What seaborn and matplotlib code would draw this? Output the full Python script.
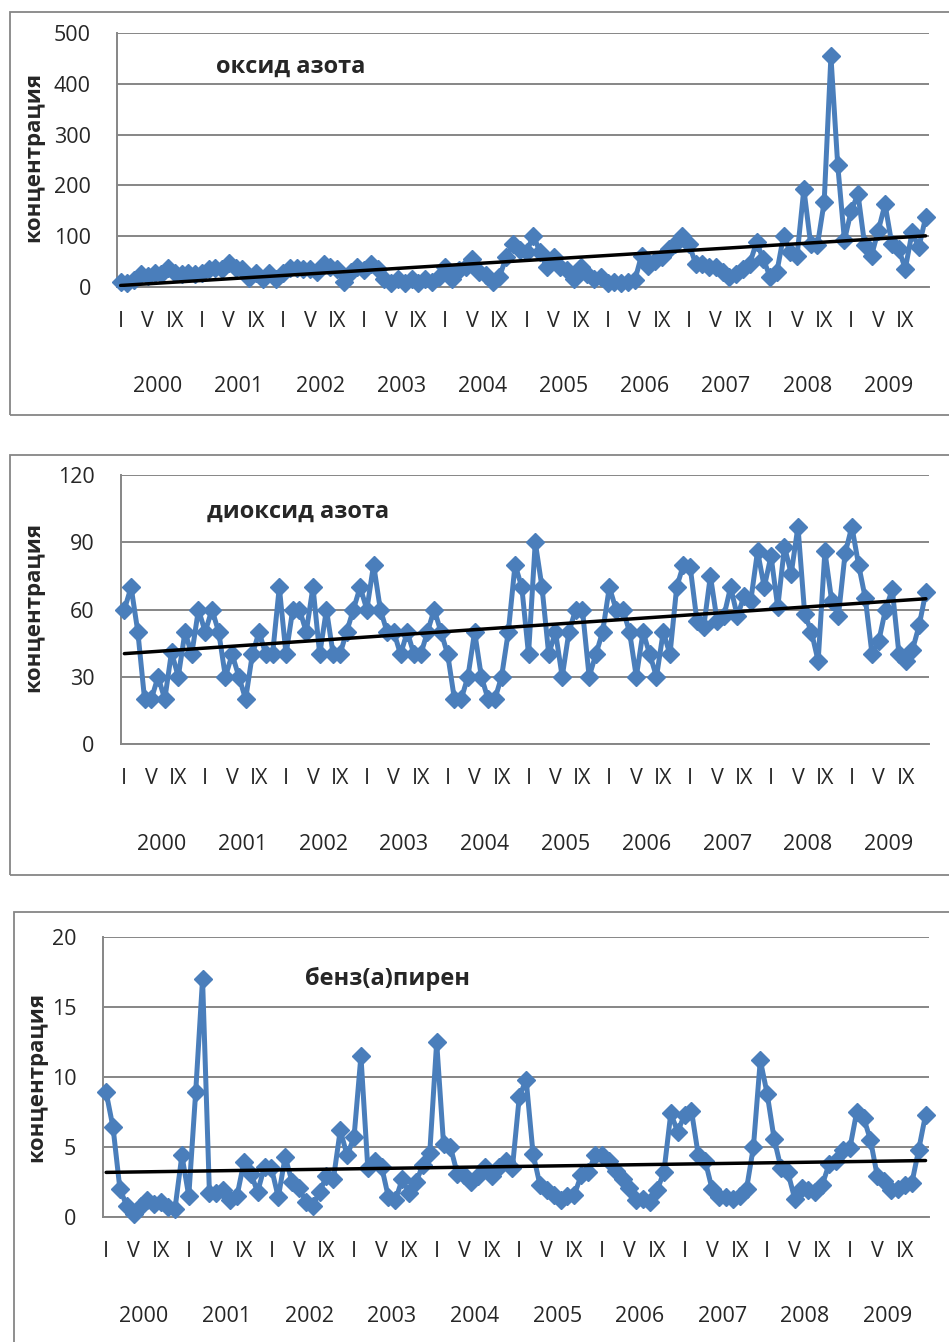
import numpy as np
import matplotlib
matplotlib.use("Agg")
import matplotlib.pyplot as plt
from matplotlib.patches import Rectangle
import seaborn as sns

# ---- monthly concentrations, Jan 2000 .. Dec 2009 ----
years = list(range(2000, 2010))
month_labels = {0: "I", 4: "V", 8: "IX"}

nox = [10, 8, 14, 25, 22, 28, 25, 38, 28, 25, 28, 26,
       28, 35, 38, 36, 47, 38, 35, 18, 28, 15, 28, 16,
       28, 38, 38, 35, 36, 29, 46, 39, 36, 10, 29, 39,
       33, 46, 36, 16, 7, 16, 7, 16, 7, 16, 10, 20,
       39, 16, 33, 39, 55, 29, 23, 10, 20, 59, 85, 72,
       69, 101, 69, 39, 59, 39, 33, 16, 39, 26, 16, 20,
       7, 10, 7, 10, 13, 62, 42, 52, 59, 75, 85, 101,
       85, 46, 46, 39, 39, 29, 20, 26, 36, 46, 88, 55,
       20, 29, 101, 69, 62, 193, 85, 82, 167, 454, 241, 92,
       150, 183, 82, 62, 111, 163, 85, 75, 36, 108, 78, 137]

no2 = [60, 70, 50, 20, 20, 30, 20, 41, 30, 50, 40, 60,
       50, 60, 50, 30, 40, 30, 20, 40, 50, 40, 40, 70,
       40, 60, 60, 50, 70, 40, 60, 40, 40, 50, 60, 70,
       60, 80, 60, 50, 50, 40, 50, 40, 40, 50, 60, 50,
       40, 20, 20, 30, 50, 30, 20, 20, 30, 50, 80, 70,
       40, 90, 70, 40, 50, 30, 50, 60, 60, 30, 40, 50,
       70, 60, 60, 50, 30, 50, 40, 30, 50, 40, 70, 80,
       79, 55, 52, 75, 55, 57, 70, 57, 66, 64, 86, 70,
       84, 61, 88, 76, 97, 58, 50, 37, 86, 64, 57, 85,
       97, 80, 65, 40, 46, 60, 69, 40, 37, 42, 53, 68]

bap = [8.9, 6.4, 2.0, 0.8, 0.2, 0.8, 1.2, 0.95, 1.1, 0.7, 0.6, 4.4,
       1.5, 8.9, 17.0, 1.7, 1.7, 1.9, 1.2, 1.5, 3.9, 3.1, 1.8, 3.6,
       3.5, 1.4, 4.3, 2.5, 2.1, 1.1, 0.8, 1.8, 2.9, 2.7, 6.2, 4.4,
       5.7, 11.5, 3.5, 4.0, 3.6, 1.4, 1.2, 2.7, 1.7, 2.5, 3.7, 4.6,
       12.5, 5.2, 5.0, 3.1, 3.0, 2.5, 2.9, 3.6, 2.9, 3.6, 4.0, 3.5,
       8.6, 9.8, 4.5, 2.3, 1.9, 1.6, 1.2, 1.5, 1.6, 3.0, 3.2, 4.4,
       4.4, 4.0, 3.3, 2.7, 2.1, 1.2, 1.3, 1.1, 1.9, 3.2, 7.4, 6.1,
       7.3, 7.6, 4.4, 4.0, 2.0, 1.4, 1.4, 1.3, 1.5, 2.0, 5.0, 11.2,
       8.8, 5.6, 3.5, 3.2, 1.3, 2.1, 1.9, 1.8, 2.3, 3.8, 4.0, 4.8,
       4.9, 7.5, 7.1, 5.5, 2.9, 2.6, 1.9, 2.0, 2.3, 2.4, 4.8, 7.3]

titles = ["оксид азота", "диоксид азота", "бенз(а)пирен"]
y_label = "концентрация"
y_ticks = [[0, 100, 200, 300, 400, 500],
           [0, 30, 60, 90, 120],
           [0, 5, 10, 15, 20]]

# ---- styling ----
sns.set_style("white")
plt.rcParams["font.family"] = ["Open Sans", "DejaVu Sans"]

W, H = 949, 1342
LINE = "#4A7EBB"
GRAY = "#868686"

fig = plt.figure(figsize=(W / 100, H / 100), dpi=100)

# plot rectangles (left, top, right, bottom) in pixels, frame boxes, title anchors
layout = [
    dict(plot=(117.3, 33, 929, 287), box=(10, 12, 990, 415),
         title=(216, 73), ylab=(34, 157)),
    dict(plot=(121, 475, 929.3, 744), box=(10, 455, 990, 875),
         title=(207, 518), ylab=(34, 607)),
    dict(plot=(102.7, 937, 929, 1217), box=(14, 912, 990, 1400),
         title=(305, 985), ylab=(37, 1077)),
]

series = [nox, no2, bap]
n = len(nox)
idx = np.arange(n)

major_pos = [i for i in range(n) if i % 12 in month_labels]
major_lab = [month_labels[i % 12] for i in major_pos]

for k, (vals, lay, ticks, title) in enumerate(zip(series, layout, y_ticks, titles)):
    l, t, r, b = lay["plot"]
    ax = fig.add_axes([l / W, 1 - b / H, (r - l) / W, (b - t) / H])

    # outer chart frame
    bl, bt, br, bb = lay["box"]
    fig.add_artist(Rectangle((bl / W, 1 - bb / H), (br - bl) / W, (bb - bt) / H,
                             transform=fig.transFigure, fill=False,
                             edgecolor=GRAY, linewidth=1.3))

    sns.lineplot(x=idx, y=vals, ax=ax, color=LINE, linewidth=3.6,
                 marker="D", markersize=9.5, markeredgecolor=LINE,
                 markeredgewidth=1.0, clip_on=False, zorder=3)
    sns.regplot(x=idx, y=np.asarray(vals, dtype=float), ax=ax, scatter=False,
                ci=None, truncate=True, color="black",
                line_kws=dict(linewidth=2.5, zorder=4))

    ax.set_xlim(-0.5, n - 0.5)
    ax.set_ylim(ticks[0], ticks[-1])
    ax.set_yticks(ticks)
    ax.set_yticklabels([str(v) for v in ticks])

    ax.set_xticks(major_pos)
    ax.set_xticklabels(major_lab)
    ax.set_xticks(np.arange(-0.5, n, 1.0), minor=True)

    ax.tick_params(axis="x", which="major", length=0, pad=17, labelsize=15.5)
    ax.tick_params(axis="x", which="minor", length=6, width=1.2,
                   color=GRAY, direction="out")
    ax.tick_params(axis="y", which="major", length=7, width=1.3,
                   color=GRAY, direction="out", pad=12, labelsize=15.5)

    ax.yaxis.grid(True, color=GRAY, linewidth=1.4)
    ax.xaxis.grid(False)
    ax.set_axisbelow(True)
    for side in ("top", "right"):
        ax.spines[side].set_visible(False)
    for side in ("left", "bottom"):
        ax.spines[side].set_color(GRAY)
        ax.spines[side].set_linewidth(1.4)

    ax.set_xlabel("")
    ax.set_ylabel(y_label, fontsize=16, fontweight="bold")
    ax.yaxis.label.set(va="center", ha="center", rotation_mode="default")
    yl_x, yl_y = lay["ylab"]
    ax.yaxis.set_label_coords((yl_x - l) / (r - l), (b - yl_y) / (b - t))

    # year captions under the month labels
    for j, yr in enumerate(years):
        ax.annotate(str(yr), xy=(12 * j + 5.5, 0),
                    xycoords=("data", "axes fraction"),
                    xytext=(0, -72), textcoords="offset points",
                    ha="center", va="center", fontsize=15.5)

    tx, ty = lay["title"]
    fig.text(tx / W, 1 - ty / H, title, ha="left", va="baseline",
             fontsize=17, fontweight="bold")

fig.savefig("out.png", dpi=100, facecolor="white")
